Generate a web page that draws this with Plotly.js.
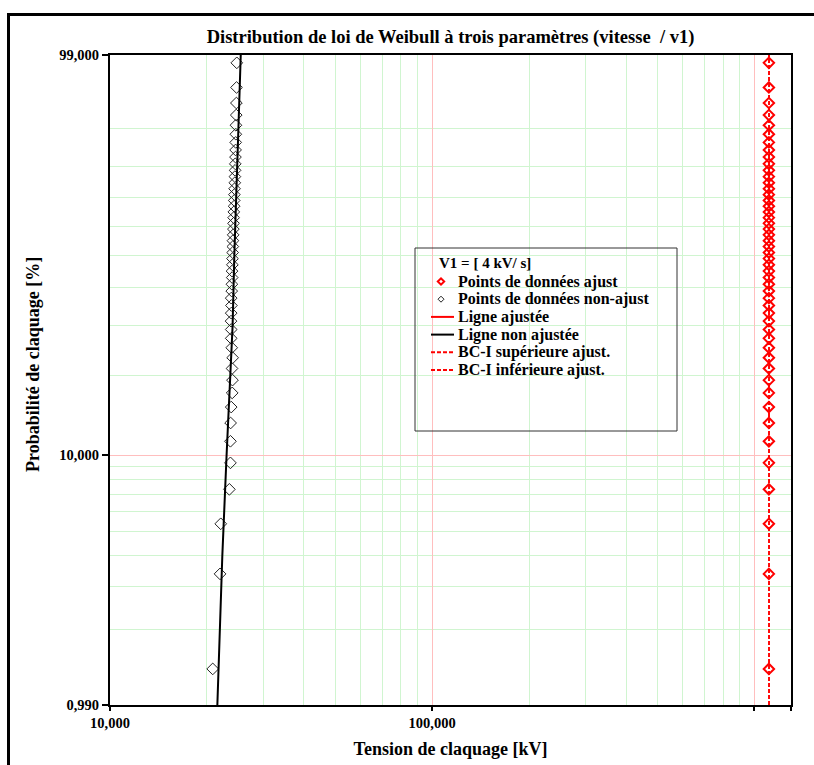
<!DOCTYPE html>
<html>
<head>
<meta charset="utf-8">
<script src="https://cdn.plot.ly/plotly-3.0.1.min.js"></script>
<style>
  html, body { margin: 0; padding: 0; background: #fff; }
  #wrap { position: relative; width: 814px; height: 765px; overflow: hidden; }
  #chart { position: absolute; left: 0; top: 0; width: 814px; height: 765px; }
  #frame { position: absolute; left: 7px; top: 13px; width: 900px; height: 900px;
           border-left: 3px solid #000; border-top: 3px solid #000; pointer-events: none; }
</style>
</head>
<body>
<div id="wrap">
  <div id="chart"></div>
  <div id="frame"></div>
</div>
<script>
// Breakdown probability of each specimen [%] (median ranks)
const probPct = [1.389, 3.373, 5.357, 7.341, 9.325, 11.310, 13.294, 15.278, 17.262, 19.246,
  21.230, 23.214, 25.198, 27.183, 29.167, 31.151, 33.135, 35.119, 37.103, 39.087,
  41.071, 43.056, 45.040, 47.024, 49.008, 50.992, 52.976, 54.960, 56.944, 58.929,
  60.913, 62.897, 64.881, 66.865, 68.849, 70.833, 72.817, 74.802, 76.786, 78.770,
  80.754, 82.738, 84.722, 86.706, 88.690, 90.675, 92.659, 94.643, 96.627, 98.611];

// Non-adjusted breakdown voltages [kV]
const rawVoltage = [20840, 21960, 22070, 23470, 23650, 23650, 23680, 23780, 23950, 24000,
  23920, 24030, 23870, 23780, 23780, 23750, 23780, 23820, 23780, 23870,
  23900, 23950, 23920, 23980, 24000, 24030, 24060, 24080, 24120, 24150,
  24180, 24200, 24230, 24280, 24300, 24330, 24360, 24400, 24420, 24450,
  24480, 24520, 24540, 24560, 24580, 24600, 24650, 24680, 24700, 24750];

// Adjusted breakdown voltages [kV]
const adjVoltage = [1110000, 1110000, 1110000, 1110000, 1110000, 1110000, 1110000, 1110000, 1110000, 1110000,
  1110000, 1110000, 1110000, 1110000, 1110000, 1110000, 1110000, 1110000, 1110000, 1110000,
  1110000, 1110000, 1110000, 1110000, 1110000, 1110000, 1110000, 1110000, 1110000, 1110000,
  1110000, 1110000, 1110000, 1110000, 1110000, 1110000, 1110000, 1110000, 1110000, 1110000,
  1110000, 1110000, 1110000, 1110000, 1110000, 1110000, 1110000, 1110000, 1110000, 1110000];

// Fitted line (non-adjusted, 3-parameter Weibull)
const fitProb = [0.99, 2, 4, 10, 20, 30, 50, 70, 90, 99];
const fitVoltage = [21540, 21930, 22320, 23010, 23680, 24020, 24320, 24620, 25100, 25460];

// Confidence bounds (adjusted)
const ciProb = [0.99, 99];
const ciUpper = [1112000, 1112000];
const ciLower = [1110000, 1110000];

// Axis ticks
const yTickPct = [0.99, 10, 99];
const yTickText = ['0,990', '10,000', '99,000'];
const yMinorPct = [2, 3, 4, 5, 6, 7, 8, 9, 20, 30, 40, 50, 60, 70, 80, 90];
const xTickVals = [10000, 100000, 1000000, 1300000];
const xTickText = ['10,000', '100,000', '', '1300,000'];
const xMinorVals = [20000, 30000, 40000, 50000, 60000, 70000, 80000, 90000,
  200000, 300000, 400000, 500000, 600000, 700000, 800000, 900000];

// Legend texts
const legendTitle = 'V1 = [ 4 kV/ s]';
const legendLabels = ['Points de données ajust', 'Points de données non-ajust', 'Ligne ajustée',
  'Ligne non ajustée', 'BC-I supérieure ajust.', 'BC-I inférieure ajust.'];

// Weibull probability scale: ln(-ln(1-F))
const weib = p => Math.log(-Math.log(1 - p / 100));

const serif = 'Liberation Serif, Times New Roman, serif';
const greenGrid = 'rgb(208,245,208)';
const redGrid = 'rgb(255,190,190)';
const RED = 'rgb(255,0,0)';

// plot-area geometry (px) -> paper coords for the drawn legend box
const PL = 110, PR = 791, PT = 55, PB = 705;
const px = v => (v - PL) / (PR - PL);
const py = v => 1 - (v - PT) / (PB - PT);

const traces = [
  { name: legendLabels[0], type: 'scatter', mode: 'markers',
    x: adjVoltage, y: probPct.map(weib),
    marker: { symbol: 'diamond-open', size: 8, color: RED, line: { width: 2, color: RED } } },
  { name: legendLabels[1], type: 'scatter', mode: 'markers',
    x: rawVoltage, y: probPct.map(weib),
    marker: { symbol: 'diamond-open', size: 9, color: '#222', line: { width: 1, color: '#222' } } },
  { name: legendLabels[3], type: 'scatter', mode: 'lines',
    x: fitVoltage, y: fitProb.map(weib),
    line: { color: '#000', width: 2 } },
  { name: legendLabels[4], type: 'scatter', mode: 'lines',
    x: ciUpper, y: ciProb.map(weib),
    line: { color: RED, width: 1.5, dash: '4px,2px' } },
  { name: legendLabels[5], type: 'scatter', mode: 'lines',
    x: ciLower, y: ciProb.map(weib),
    line: { color: RED, width: 1.5, dash: '4px,2px' } }
];

// Legend drawn as annotations + shapes (compact line spacing like the original)
const rowY = [281.5, 299.2, 316.9, 334.6, 352.3, 370];
const annotations = [
  { xref: 'paper', yref: 'paper', x: px(438), y: py(263), xanchor: 'left', yanchor: 'middle',
    text: legendTitle, showarrow: false, borderpad: 0, font: { family: serif, size: 15, weight: 'bold', color: '#000' } },
  { xref: 'paper', yref: 'paper', x: px(33), y: py(365), xanchor: 'center', yanchor: 'middle',
    text: 'Probabilité de claquage [%]', textangle: -90, showarrow: false,
    font: { family: serif, size: 18, weight: 'bold', color: '#000' } }
];
legendLabels.forEach((t, i) => annotations.push({
  xref: 'paper', yref: 'paper', x: px(457), y: py(rowY[i]), xanchor: 'left', yanchor: 'middle',
  text: t, showarrow: false, borderpad: 0,
  font: { family: serif, size: 16, weight: 'bold', color: '#000' }
}));

const diamond = r => `M ${-r} 0 L 0 ${r} L ${r} 0 L 0 ${-r} Z`;
const shapes = [
  { type: 'rect', xref: 'paper', yref: 'paper', x0: px(415), x1: px(677), y0: py(431), y1: py(248),
    line: { color: '#333', width: 1 }, fillcolor: 'rgba(0,0,0,0)' },
  { type: 'path', xref: 'paper', yref: 'paper', xsizemode: 'pixel', ysizemode: 'pixel',
    xanchor: px(441), yanchor: py(rowY[0]), path: diamond(3.2), line: { color: RED, width: 2 } },
  { type: 'path', xref: 'paper', yref: 'paper', xsizemode: 'pixel', ysizemode: 'pixel',
    xanchor: px(441), yanchor: py(rowY[1]), path: diamond(3), line: { color: '#222', width: 1 } },
  { type: 'line', xref: 'paper', yref: 'paper', x0: px(431), x1: px(454), y0: py(rowY[2]), y1: py(rowY[2]),
    line: { color: RED, width: 2 } },
  { type: 'line', xref: 'paper', yref: 'paper', x0: px(431), x1: px(454), y0: py(rowY[3]), y1: py(rowY[3]),
    line: { color: '#000', width: 2 } },
  { type: 'line', xref: 'paper', yref: 'paper', x0: px(431), x1: px(454), y0: py(rowY[4]), y1: py(rowY[4]),
    line: { color: RED, width: 2, dash: '4px,2px' } },
  { type: 'line', xref: 'paper', yref: 'paper', x0: px(431), x1: px(454), y0: py(rowY[5]), y1: py(rowY[5]),
    line: { color: RED, width: 2, dash: '4px,2px' } }
];

const layout = {
  width: 814, height: 765,
  margin: { l: PL, r: 814 - PR, t: PT, b: 765 - PB },
  paper_bgcolor: '#fff', plot_bgcolor: '#fff',
  font: { family: serif, color: '#000', size: 14, weight: 'bold' },
  showlegend: false,
  title: {
    text: 'Distribution de loi de Weibull à trois paramètres (vitesse  / v1)',
    font: { family: serif, size: 18.5, weight: 'bold', color: '#000' },
    xref: 'paper', x: 0.5, xanchor: 'center',
    yref: 'container', y: 1 - 37 / 765, yanchor: 'middle'
  },
  xaxis: {
    type: 'log',
    range: [4, Math.log10(1300000)],
    tickmode: 'array', tickvals: xTickVals, ticktext: xTickText,
    ticks: 'outside', ticklen: 4, tickwidth: 2, tickcolor: '#000',
    tickfont: { family: serif, size: 14.5, weight: 'bold' },
    showgrid: true, gridcolor: redGrid, gridwidth: 1,
    minor: { tickmode: 'array', tickvals: xMinorVals, showgrid: true, gridcolor: greenGrid, gridwidth: 1, ticks: '' },
    showline: true, linecolor: '#000', linewidth: 2, mirror: true,
    zeroline: false,
    title: { text: 'Tension de claquage [kV]', font: { family: serif, size: 18, weight: 'bold' }, standoff: 12 }
  },
  yaxis: {
    type: 'linear',
    range: [weib(0.99), weib(99)],
    tickmode: 'array', tickvals: yTickPct.map(weib), ticktext: yTickText,
    ticks: 'outside', ticklen: 6, tickwidth: 2, tickcolor: '#000',
    tickfont: { family: serif, size: 14.5, weight: 'bold' },
    showgrid: true, gridcolor: redGrid, gridwidth: 1,
    minor: { tickmode: 'array', tickvals: yMinorPct.map(weib), showgrid: true, gridcolor: greenGrid, gridwidth: 1, ticks: '' },
    showline: true, linecolor: '#000', linewidth: 2, mirror: true,
    zeroline: false
  },
  annotations: annotations,
  shapes: shapes
};

Plotly.newPlot('chart', traces, layout, { displayModeBar: false, staticPlot: true });
</script>
</body>
</html>
